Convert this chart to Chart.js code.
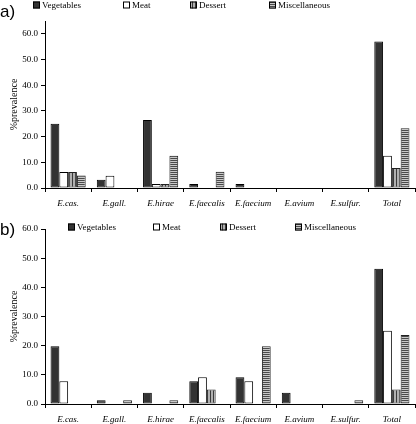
<!DOCTYPE html>
<html>
<head>
<meta charset="utf-8">
<script src="https://cdn.jsdelivr.net/npm/chart.js@4"></script>
<style>
  body { margin: 0; background: #fff; }
  #page { position: relative; width: 416px; height: 424px; overflow: hidden; }
  .box { position: absolute; left: 0; width: 416px; height: 212px; }
  .tag { position: absolute; left: 0; font: 17px "Liberation Sans", Arial, sans-serif; color: #000; }
</style>
</head>
<body>
<div id="page">
  <div class="box" style="top:0"><canvas id="chartA"></canvas></div>
  <div class="box" style="top:212px"><canvas id="chartB"></canvas></div>
  <div class="tag" style="top:2px">a)</div>
  <div class="tag" style="top:220px">b)</div>
</div>
<script>
// categorias (especies) y series
const categories = ['E.cas.', 'E.gall.', 'E.hirae', 'E.faecalis', 'E.faecium', 'E.avium', 'E.sulfur.', 'Total'];
const seriesNames = ['Vegetables', 'Meat', 'Dessert', 'Miscellaneous'];
const yTicks = [0, 10, 20, 30, 40, 50, 60];

// panel a)
const vegA     = [25.0, 3.2, 26.5, 1.6, 1.6, 0, 0, 57.0];
const meatA    = [6.2, 4.8, 1.6, 0, 0, 0, 0, 12.6];
const dessertA = [6.2, 0, 1.6, 0, 0, 0, 0, 7.8];
const miscA    = [4.9, 0, 12.6, 6.3, 0, 0, 0, 23.3];

// panel b)
const vegB     = [19.8, 1.3, 3.9, 7.8, 9.2, 3.9, 0, 46.4];
const meatB    = [7.8, 0, 0, 9.2, 7.8, 0, 0, 25.1];
const dessertB = [0, 0, 0, 5.0, 0, 0, 0, 5.0];
const miscB    = [0, 1.3, 1.3, 0, 19.8, 0, 1.3, 23.7];

const serif = '"Liberation Serif", "Times New Roman", serif';

// rellenos rayados
function stripes(vertical, dark, light, period) {
  const c = document.createElement('canvas');
  c.width = period; c.height = period;
  const g = c.getContext('2d');
  g.fillStyle = light;
  g.fillRect(0, 0, period, period);
  g.fillStyle = dark;
  if (vertical) g.fillRect(0, 0, 1, period);
  else g.fillRect(0, 0, period, 1);
  return g.createPattern(c, 'repeat');
}

function fills(ctx) {
  return [
    { bg: '#333333', border: '#000' },
    { bg: '#ffffff', border: '#000' },
    { bg: stripes(true, '#3a3a3a', '#b0b0b0', 3), border: '#222' },
    { bg: stripes(false, '#4a4a4a', '#c8c8c8', 2), border: '#222' }
  ];
}

// leyenda dibujada a mano (posiciones como en el original)
const legendPlugin = {
  id: 'posLegend',
  afterDraw(chart, args, opts) {
    const ctx = chart.ctx;
    ctx.save();
    ctx.font = '9px ' + serif;
    ctx.textBaseline = 'middle';
    chart.data.datasets.forEach((ds, i) => {
      const x = opts.xs[i], y = opts.y;
      ctx.fillStyle = ds.backgroundColor;
      ctx.fillRect(x, y - 3.5, 7, 7);
      ctx.strokeStyle = '#000';
      ctx.lineWidth = 1;
      ctx.strokeRect(x + 0.5, y - 3, 6, 6);
      ctx.fillStyle = '#000';
      ctx.fillText(ds.label, x + 9, y + 1);
    });
    ctx.restore();
  }
};

function makeChart(id, values, yMax, legendXs, legendY, padTop, xHeight) {
  const canvas = document.getElementById(id);
  const f = fills();
  return new Chart(canvas, {
    type: 'bar',
    data: {
      labels: categories,
      datasets: values.map((v, i) => ({
        label: seriesNames[i],
        data: v,
        backgroundColor: f[i].bg,
        borderColor: f[i].border,
        borderWidth: 1,
        borderSkipped: false,
        categoryPercentage: 0.76,
        barPercentage: 1.0
      }))
    },
    options: {
      responsive: true,
      maintainAspectRatio: false,
      animation: false,
      layout: { padding: { left: 0, right: 1, top: padTop, bottom: 0 } },
      plugins: {
        legend: { display: false },
        tooltip: { enabled: false },
        posLegend: { xs: legendXs, y: legendY }
      },
      scales: {
        x: {
          offset: true,
          grid: { display: true, offset: true, drawOnChartArea: false, drawTicks: true, tickLength: 4, color: '#000' },
          border: { display: true, color: '#000', width: 1 },
          ticks: { color: '#000', font: { family: serif, size: 9, style: 'italic' }, padding: 6, maxRotation: 0, autoSkip: false },
          afterFit(scale) { scale.height = xHeight; }
        },
        y: {
          min: 0,
          max: yMax,
          afterBuildTicks(scale) { scale.ticks = yTicks.map(v => ({ value: v })); },
          grid: { display: true, drawOnChartArea: false, drawTicks: true, tickLength: 4, color: '#000' },
          border: { display: true, color: '#000', width: 1 },
          ticks: { color: '#000', font: { family: serif, size: 9 }, padding: 3, callback: v => Number(v).toFixed(1) },
          title: { display: true, text: '%prevalence', color: '#000', font: { family: serif, size: 10 }, padding: { top: 8, bottom: 0 } },
          afterFit(scale) { scale.width = 45; }
        }
      }
    },
    plugins: [legendPlugin]
  });
}

makeChart('chartA', [vegA, meatA, dessertA, miscA], 65, [33, 123, 190, 269], 5, 21, 24);
makeChart('chartB', [vegB, meatB, dessertB, miscB], 60, [68, 153, 220, 295], 15, 17, 20);
</script>
</body>
</html>
